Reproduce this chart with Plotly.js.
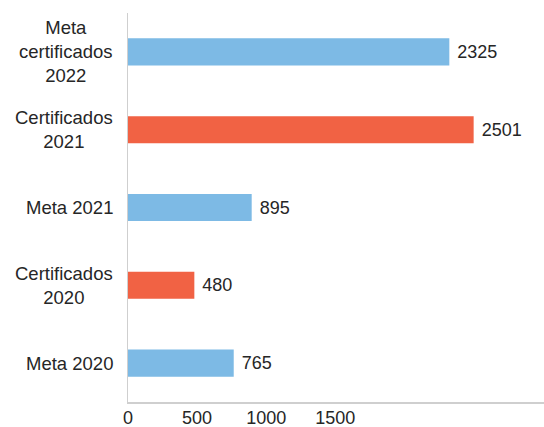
<!DOCTYPE html>
<html>
<head>
<meta charset="utf-8">
<script src="https://cdn.plot.ly/plotly-3.0.1.min.js"></script>
<style>html,body{margin:0;padding:0;background:#fff;}#chart{width:544px;height:427px;}</style>
</head>
<body>
<div id="chart"></div>
<script>
// Categories from bottom to top
const categories = ["Meta 2020", "Certificados 2020", "Meta 2021", "Certificados 2021", "Meta certificados 2022"];
const categoryLabels = ["Meta 2020", "Certificados<br>2020", "Meta 2021", "Certificados<br>2021", "Meta<br>certificados<br>2022"];
const values = [765, 480, 895, 2501, 2325];
const groups = ["Meta", "Certificados", "Meta", "Certificados", "Meta"];
const xTicks = [0, 500, 1000, 1500];

const groupColors = { "Meta": "#7dbae5", "Certificados": "#f16244" };
const fontFam = "Liberation Sans, Arial, Helvetica, sans-serif";
const textColor = "#262626";
const fs = 18;
const labelFs = 18.5;

const trace = {
  type: "bar",
  orientation: "h",
  y: categories,
  x: values,
  marker: { color: groups.map(g => groupColors[g]) },
  text: values.map(v => " " + v),
  textposition: "outside",
  cliponaxis: false,
  textfont: { family: fontFam, size: fs, color: textColor },
  hoverinfo: "skip"
};

const annotations = categories.map((c, i) => ({
  xref: "paper", yref: "y",
  x: 0, y: c,
  xanchor: "right", yanchor: "middle",
  xshift: -13,
  align: "center",
  showarrow: false,
  text: categoryLabels[i],
  font: { family: fontFam, size: labelFs, color: textColor }
}));

const layout = {
  width: 544, height: 427,
  margin: { l: 128, r: 0, t: 13, b: 25 },
  paper_bgcolor: "#fff",
  plot_bgcolor: "#fff",
  showlegend: false,
  bargap: 0.652,
  font: { family: fontFam, size: fs, color: textColor },
  xaxis: {
    range: [0, 3010],
    tickvals: xTicks,
    ticktext: xTicks.map(String),
    showgrid: false,
    zeroline: false,
    showline: true,
    linecolor: "#cfcfcf",
    linewidth: 1.5,
    ticks: "",
    ticklabelstandoff: -1,
    tickfont: { family: fontFam, size: fs, color: textColor },
    fixedrange: true
  },
  yaxis: {
    type: "category",
    categoryorder: "array",
    categoryarray: categories,
    range: [-0.5, 4.5],
    showgrid: false,
    zeroline: false,
    showline: true,
    linecolor: "#cfcfcf",
    linewidth: 1.5,
    ticks: "",
    showticklabels: false,
    fixedrange: true
  },
  annotations: annotations
};

Plotly.newPlot("chart", [trace], layout, { displayModeBar: false, staticPlot: true });
</script>
</body>
</html>
